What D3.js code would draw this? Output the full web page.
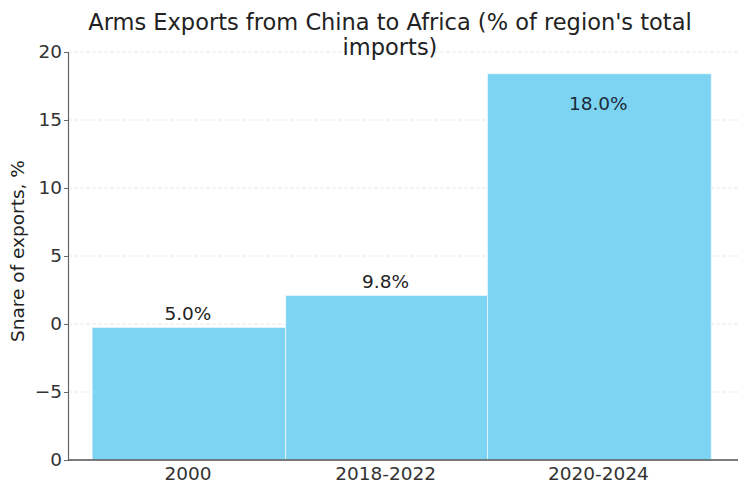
<!DOCTYPE html>
<html>
<head>
<meta charset="utf-8">
<script src="https://cdn.jsdelivr.net/npm/d3@7"></script>
<style>
  html, body { margin: 0; padding: 0; background: #fff; }
  svg { display: block; font-family: "DejaVu Sans", sans-serif; }
</style>
</head>
<body>
<svg id="chart" width="740" height="486"></svg>
<script>
// ---- data ----
const categories = ["2000", "2018-2022", "2020-2024"];
const barValues = [-0.25, 2.1, 18.4];          // bar tops as read on the y axis
const barLabels = ["5.0%", "9.8%", "18.0%"];
const periodEdges = [0.036, 0.325, 0.626, 0.96]; // relative bar edges (unequal widths)
const yTickValues = [-10, -5, 0, 5, 10, 15, 20];
const yTickLabels = ["0", "\u22125", "0", "5", "10", "15", "20"];
const titleLines = ["Arms Exports from China to Africa (% of region's total", "imports)"];
const yAxisTitle = "Snare of exports, %";

// ---- layout ----
const W = 740, H = 486;
const m = { left: 68, right: 2, top: 52, bottom: 26 };
const svg = d3.select("#chart");

const x = d3.scaleLinear().domain([0, 1]).range([m.left, W - m.right]);
const y = d3.scaleLinear().domain([-10, 20]).range([H - m.bottom, m.top]);

// grid
svg.append("g").selectAll("line").data(yTickValues).join("line")
  .attr("x1", m.left).attr("x2", W - m.right)
  .attr("y1", d => y(d)).attr("y2", d => y(d))
  .attr("stroke", "#e8e8e8").attr("stroke-width", 1).attr("stroke-dasharray", "4,2");

// bars
const bars = categories.map((c, i) => ({ c, v: barValues[i], label: barLabels[i], x0: periodEdges[i], x1: periodEdges[i + 1] }));
svg.append("g").selectAll("rect").data(bars).join("rect")
  .attr("x", d => x(d.x0))
  .attr("width", d => x(d.x1) - x(d.x0))
  .attr("y", d => y(d.v))
  .attr("height", d => y(-10) - y(d.v))
  .attr("fill", "#7dd3f2")
  .attr("stroke", "#eaf7fd").attr("stroke-width", 0.8);

// value labels
svg.append("g").selectAll("text").data(bars).join("text")
  .attr("x", d => (x(d.x0) + x(d.x1)) / 2 - 1)
  .attr("y", d => y(d.v) < 120 ? y(d.v) + 36 : y(d.v) - 7)
  .attr("text-anchor", "middle")
  .attr("font-size", 18.5)
  .attr("fill", d => y(d.v) < 120 ? "#1b2b3a" : "#222")
  .text(d => d.label);

// y axis
const yAxis = d3.axisLeft(y).tickValues(yTickValues)
  .tickFormat((d, i) => yTickLabels[i]).tickSize(4).tickPadding(2);
const gy = svg.append("g").attr("transform", `translate(${m.left},0)`).call(yAxis);
gy.select(".domain").attr("stroke", "#666").attr("stroke-width", 1.2);
gy.selectAll(".tick line").attr("stroke", "#666");
gy.selectAll(".tick text").attr("font-size", 18.5).attr("fill", "#333")
  .attr("font-family", "DejaVu Sans, sans-serif");

// x axis (baseline + category labels)
svg.append("line")
  .attr("x1", m.left).attr("x2", W - m.right)
  .attr("y1", y(-10)).attr("y2", y(-10))
  .attr("stroke", "#555").attr("stroke-width", 1.5);
svg.append("g").selectAll("text").data(bars).join("text")
  .attr("x", d => (x(d.x0) + x(d.x1)) / 2 - 1)
  .attr("y", y(-10) + 20)
  .attr("text-anchor", "middle")
  .attr("font-size", 18.5).attr("fill", "#333")
  .text(d => d.c);

// title
svg.append("g").selectAll("text").data(titleLines).join("text")
  .attr("x", 390).attr("y", (d, i) => 30 + i * 25)
  .attr("text-anchor", "middle")
  .attr("font-size", 22.5).attr("fill", "#222")
  .text(d => d);

// y title
svg.append("text")
  .attr("transform", `translate(24,251) rotate(-90)`)
  .attr("text-anchor", "middle")
  .attr("font-size", 18.5).attr("fill", "#222")
  .text(yAxisTitle);
</script>
</body>
</html>
